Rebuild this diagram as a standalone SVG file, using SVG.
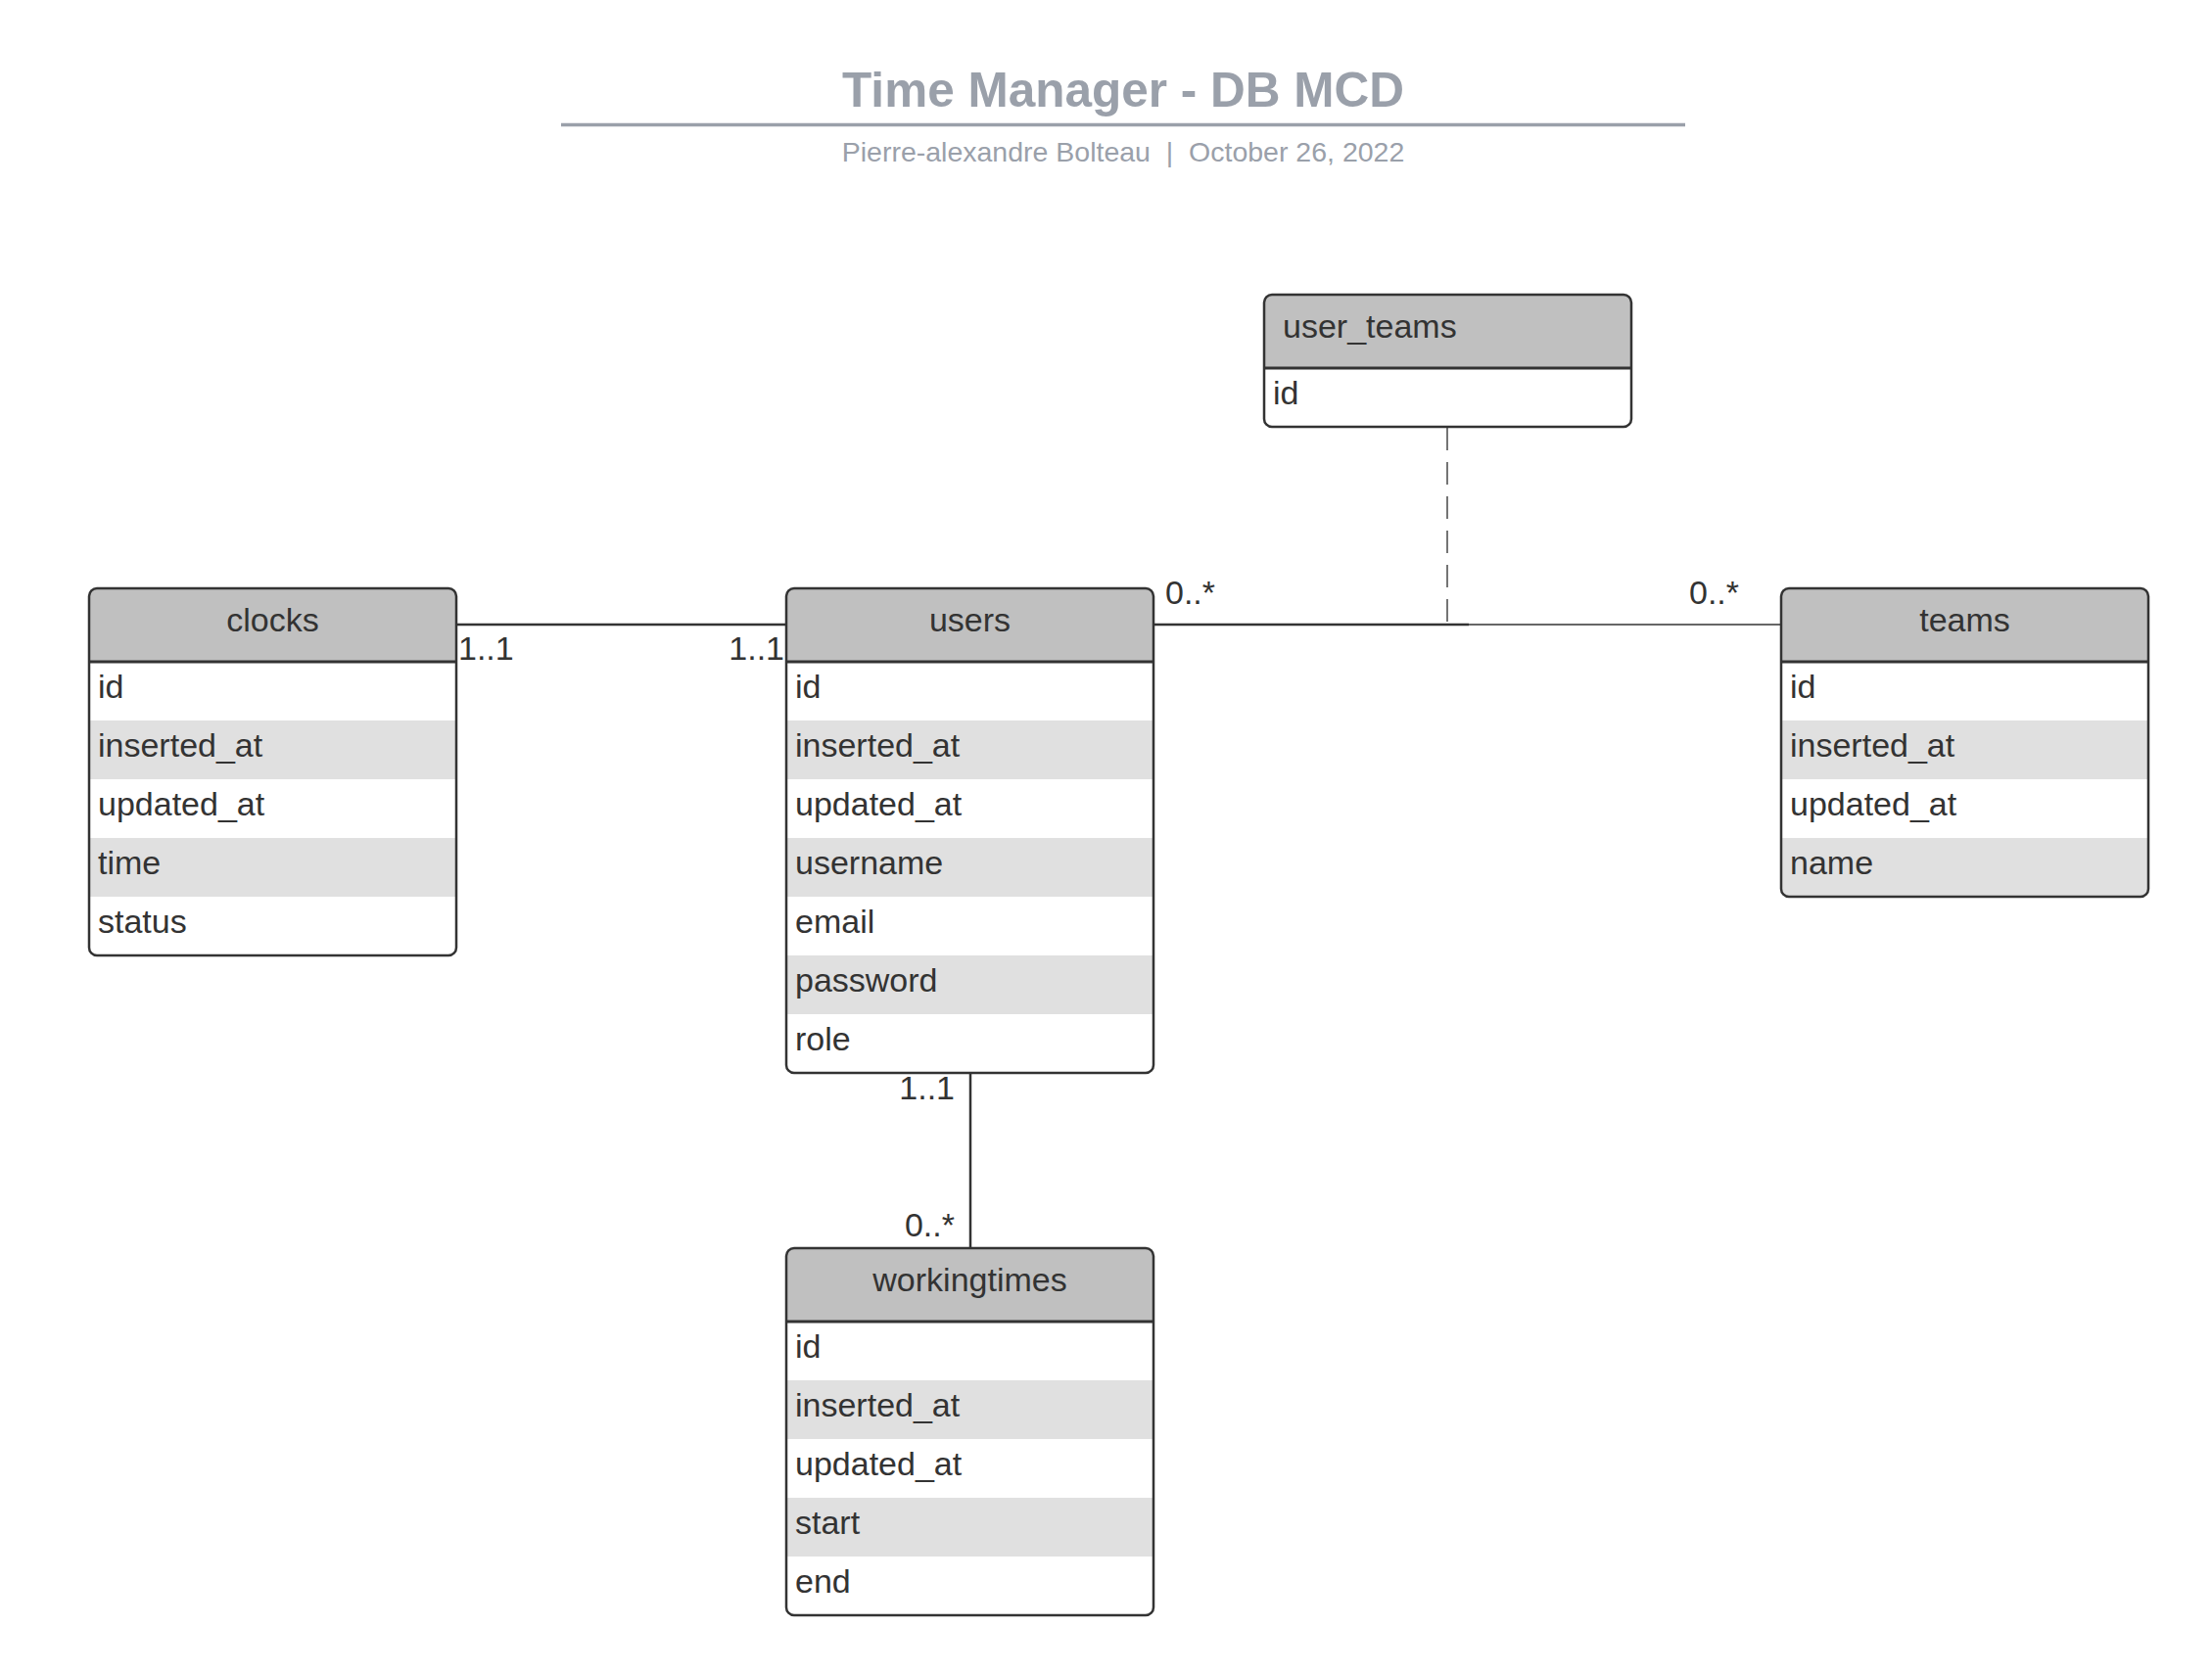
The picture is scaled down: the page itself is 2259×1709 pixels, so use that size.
<svg xmlns="http://www.w3.org/2000/svg" width="2259" height="1709" viewBox="0 0 2259 1709">
<style>
.title{font-family:"Liberation Sans",Arial,sans-serif;font-weight:bold;font-size:49.5px;fill:#9aa0aa;text-anchor:middle}
.sub{font-family:"Liberation Sans",Arial,sans-serif;font-size:28.5px;fill:#9aa0aa;text-anchor:middle}
.hd{fill:#c0c0c0}
.alt{fill:#e0e0e0}
.box{fill:none;stroke:#333;stroke-width:2.5}
.div{stroke:#333;stroke-width:3}
.t{font-family:"Liberation Sans",Arial,sans-serif;font-size:34px;fill:#333}
.c{text-anchor:middle}
.e{text-anchor:end}
.ln{stroke:#333;stroke-width:2.5;fill:none}
.thin{stroke:#333;stroke-width:1.5;fill:none}
.dash{stroke:#666;stroke-width:1.8;fill:none;stroke-dasharray:23 12}
</style>
<rect width="2259" height="1709" fill="#ffffff"/>
<g id="title">
<text class="title" x="1147" y="109">Time Manager - DB MCD</text>
<line x1="573" y1="127.5" x2="1721" y2="127.5" stroke="#9aa0aa" stroke-width="3.5"/>
<text class="sub" x="1147" y="165">Pierre-alexandre Bolteau&#160; |&#160; October 26, 2022</text>
</g>
<g id="connectors">
<line class="ln" x1="466" y1="638" x2="803" y2="638"/>
<line class="ln" x1="1178" y1="638" x2="1500" y2="638"/>
<line class="thin" x1="1478" y1="638" x2="1819" y2="638"/>
<line class="dash" x1="1478" y1="437" x2="1478" y2="638"/>
<line class="ln" x1="991" y1="1096" x2="991" y2="1275"/>
<text class="t" x="468" y="674">1..1</text>
<text class="t e" x="801" y="674">1..1</text>
<text class="t" x="1190" y="617">0..*</text>
<text class="t" x="1725" y="617">0..*</text>
<text class="t e" x="975" y="1123">1..1</text>
<text class="t e" x="975" y="1263">0..*</text>
</g>
<g id="clocks">
<rect x="91" y="601" width="375" height="375" rx="8" fill="#fff"/>
<path class="hd" d="M91,676 V609 A8,8 0 0 1 99,601 H458 A8,8 0 0 1 466,609 V676 Z"/>
<rect class="alt" x="92" y="736" width="373" height="60"/>
<rect class="alt" x="92" y="856" width="373" height="60"/>
<line class="div" x1="91" y1="676" x2="466" y2="676"/>
<rect class="box" x="91" y="601" width="375" height="375" rx="8"/>
<text class="t c" x="278.5" y="645">clocks</text>
<text class="t" x="100" y="713">id</text>
<text class="t" x="100" y="773">inserted_at</text>
<text class="t" x="100" y="833">updated_at</text>
<text class="t" x="100" y="893">time</text>
<text class="t" x="100" y="953">status</text>
</g>
<g id="users">
<rect x="803" y="601" width="375" height="495" rx="8" fill="#fff"/>
<path class="hd" d="M803,676 V609 A8,8 0 0 1 811,601 H1170 A8,8 0 0 1 1178,609 V676 Z"/>
<rect class="alt" x="804" y="736" width="373" height="60"/>
<rect class="alt" x="804" y="856" width="373" height="60"/>
<rect class="alt" x="804" y="976" width="373" height="60"/>
<line class="div" x1="803" y1="676" x2="1178" y2="676"/>
<rect class="box" x="803" y="601" width="375" height="495" rx="8"/>
<text class="t c" x="990.5" y="645">users</text>
<text class="t" x="812" y="713">id</text>
<text class="t" x="812" y="773">inserted_at</text>
<text class="t" x="812" y="833">updated_at</text>
<text class="t" x="812" y="893">username</text>
<text class="t" x="812" y="953">email</text>
<text class="t" x="812" y="1013">password</text>
<text class="t" x="812" y="1073">role</text>
</g>
<g id="teams">
<rect x="1819" y="601" width="375" height="315" rx="8" fill="#fff"/>
<path class="hd" d="M1819,676 V609 A8,8 0 0 1 1827,601 H2186 A8,8 0 0 1 2194,609 V676 Z"/>
<rect class="alt" x="1820" y="736" width="373" height="60"/>
<path class="alt" d="M1820,856 H2193 V908 A8,8 0 0 1 2185,916 H1828 A8,8 0 0 1 1820,908 Z"/>
<line class="div" x1="1819" y1="676" x2="2194" y2="676"/>
<rect class="box" x="1819" y="601" width="375" height="315" rx="8"/>
<text class="t c" x="2006.5" y="645">teams</text>
<text class="t" x="1828" y="713">id</text>
<text class="t" x="1828" y="773">inserted_at</text>
<text class="t" x="1828" y="833">updated_at</text>
<text class="t" x="1828" y="893">name</text>
</g>
<g id="user_teams">
<rect x="1291" y="301" width="375" height="135" rx="8" fill="#fff"/>
<path class="hd" d="M1291,376 V309 A8,8 0 0 1 1299,301 H1658 A8,8 0 0 1 1666,309 V376 Z"/>
<line class="div" x1="1291" y1="376" x2="1666" y2="376"/>
<rect class="box" x="1291" y="301" width="375" height="135" rx="8"/>
<text class="t" x="1310" y="345">user_teams</text>
<text class="t" x="1300" y="413">id</text>
</g>
<g id="workingtimes">
<rect x="803" y="1275" width="375" height="375" rx="8" fill="#fff"/>
<path class="hd" d="M803,1350 V1283 A8,8 0 0 1 811,1275 H1170 A8,8 0 0 1 1178,1283 V1350 Z"/>
<rect class="alt" x="804" y="1410" width="373" height="60"/>
<rect class="alt" x="804" y="1530" width="373" height="60"/>
<line class="div" x1="803" y1="1350" x2="1178" y2="1350"/>
<rect class="box" x="803" y="1275" width="375" height="375" rx="8"/>
<text class="t c" x="990.5" y="1319">workingtimes</text>
<text class="t" x="812" y="1387">id</text>
<text class="t" x="812" y="1447">inserted_at</text>
<text class="t" x="812" y="1507">updated_at</text>
<text class="t" x="812" y="1567">start</text>
<text class="t" x="812" y="1627">end</text>
</g>
</svg>
